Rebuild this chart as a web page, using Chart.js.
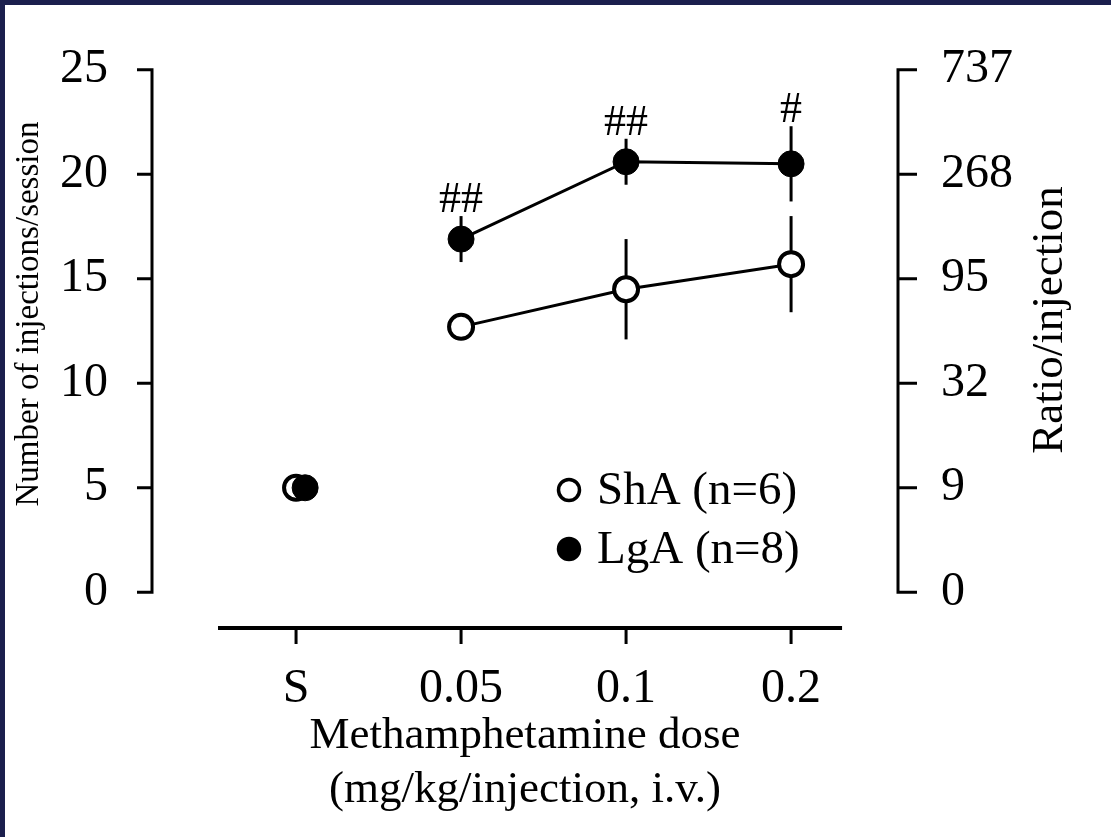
<!DOCTYPE html>
<html>
<head>
<meta charset="utf-8">
<script src="https://cdn.jsdelivr.net/npm/chart.js@4.4.1/dist/chart.umd.min.js"></script>
<style>
  html, body { margin: 0; padding: 0; background: #1b1f4d; overflow: hidden; }
  #wrap { position: absolute; left: 5px; top: 5px; width: 1106px; height: 832px; background: #fff; }
</style>
</head>
<body>
<div id="wrap"><canvas id="chart" width="1106" height="832"></canvas></div>
<script>
// dose categories on the x axis
const doseLabels = ['S', '0.05', '0.1', '0.2'];

// injections per session, mean and SEM
const shaMeans = [5.0, 12.7, 14.5, 15.7];
const shaErr   = [0, 0, 2.4, 2.3];
const lgaMeans = [5.0, 16.9, 20.6, 20.5];
const lgaErr   = [0, 1.1, 1.1, 1.8];

// significance marks above LgA points
const lgaMarks = ['', '##', '##', '#'];

// left axis ticks and the matching ratio values on the right axis
const injTicks = [0, 5, 10, 15, 20, 25];
const ratioLabels = ['0', '9', '32', '95', '268', '737'];

const serif = 'Liberation Serif, Times New Roman, serif';

function toPoints(means, shiftFirst) {
    return means.map((v, i) => ({ x: i + (i === 0 ? shiftFirst : 0), y: v }));
}

// no line between S and the first dose
const hideFirstSegment = {
    borderColor: ctx => ctx.p0DataIndex === 0 ? 'rgba(0,0,0,0)' : '#000'
};

const errors = [shaErr, lgaErr];
const means = [shaMeans, lgaMeans];

// axis lines drawn only over the 0-25 range, like the original
const axesPlugin = {
    id: 'axes',
    afterDraw(chart) {
        const ctx = chart.ctx;
        const x = chart.scales.x, yl = chart.scales.y;
        const area = chart.chartArea;
        ctx.save();
        ctx.strokeStyle = '#000';
        ctx.lineCap = 'butt';

        ctx.lineWidth = 3;
        const top = yl.getPixelForValue(25), bot = yl.getPixelForValue(0);
        ctx.beginPath();
        ctx.moveTo(area.left, top - 1.5); ctx.lineTo(area.left, bot + 1.5);
        ctx.moveTo(area.right, top - 1.5); ctx.lineTo(area.right, bot + 1.5);
        injTicks.forEach(v => {
            const py = yl.getPixelForValue(v);
            ctx.moveTo(area.left - 15, py); ctx.lineTo(area.left, py);
            ctx.moveTo(area.right, py); ctx.lineTo(area.right + 19, py);
        });
        ctx.stroke();

        ctx.lineWidth = 4;
        ctx.beginPath();
        ctx.moveTo(x.getPixelForValue(-0.473), area.bottom);
        ctx.lineTo(x.getPixelForValue(3.309), area.bottom);
        ctx.stroke();
        ctx.lineWidth = 3;
        ctx.beginPath();
        doseLabels.forEach((d, i) => {
            const px = x.getPixelForValue(i);
            ctx.moveTo(px, area.bottom); ctx.lineTo(px, area.bottom + 16);
        });
        ctx.stroke();

        // y titles, both reading bottom to top
        ctx.fillStyle = '#000';
        ctx.textAlign = 'center';
        ctx.textBaseline = 'middle';
        ctx.save();
        ctx.translate(24, 309);
        ctx.rotate(-Math.PI / 2);
        ctx.font = '33px ' + serif;
        ctx.fillText('Number of injections/session', 0, 0);
        ctx.restore();
        ctx.save();
        ctx.translate(1045, 315);
        ctx.rotate(-Math.PI / 2);
        ctx.font = '45px ' + serif;
        ctx.fillText('Ratio/injection', 0, 0);
        ctx.restore();

        // legend in the lower right
        chart.data.datasets.slice().sort((a, b) => a.legendIdx - b.legendIdx).forEach((ds, i) => {
            const cy = 485 + i * 59;
            ctx.beginPath();
            ctx.arc(564, cy, 10.5, 0, Math.PI * 2);
            ctx.fillStyle = ds.pointBackgroundColor;
            ctx.fill();
            ctx.lineWidth = 3.5;
            ctx.strokeStyle = '#000';
            ctx.stroke();
            ctx.fillStyle = '#000';
            ctx.textAlign = 'left';
            ctx.font = '47px ' + serif;
            ctx.fillText(ds.label, 592, cy + 2);
        });
        ctx.restore();
    }
};

const errorBarPlugin = {
    id: 'errorBars',
    beforeDatasetsDraw(chart) {
        const ctx = chart.ctx;
        const y = chart.scales.y;
        ctx.save();
        ctx.strokeStyle = '#000';
        ctx.lineWidth = 3;
        chart.data.datasets.forEach((ds, d) => {
            const meta = chart.getDatasetMeta(d);
            meta.data.forEach((pt, i) => {
                const e = errors[ds.legendIdx][i];
                if (!e) return;
                const m = means[ds.legendIdx][i];
                ctx.beginPath();
                ctx.moveTo(pt.x, y.getPixelForValue(m + e));
                ctx.lineTo(pt.x, y.getPixelForValue(m - e));
                ctx.stroke();
            });
        });
        ctx.restore();
    },
    afterDatasetsDraw(chart) {
        const ctx = chart.ctx;
        const y = chart.scales.y;
        const d = chart.data.datasets.findIndex(ds => ds.legendIdx === 1);
        const meta = chart.getDatasetMeta(d);
        ctx.save();
        ctx.fillStyle = '#000';
        ctx.font = '44px ' + serif;
        ctx.textAlign = 'center';
        ctx.textBaseline = 'alphabetic';
        meta.data.forEach((pt, i) => {
            if (!lgaMarks[i]) return;
            ctx.fillText(lgaMarks[i], pt.x, y.getPixelForValue(lgaMeans[i] + lgaErr[i]) - 4);
        });
        ctx.restore();
    }
};

new Chart(document.getElementById('chart'), {
    type: 'line',
    data: {
        datasets: [
            {
                label: 'LgA (n=8)',
                legendIdx: 1,
                data: toPoints(lgaMeans, 0.055),
                borderColor: '#000',
                borderWidth: 3,
                pointRadius: 13,
                pointBackgroundColor: '#000',
                pointBorderColor: '#000',
                pointBorderWidth: 1,
                segment: hideFirstSegment,
                order: 0
            },
            {
                label: 'ShA (n=6)',
                legendIdx: 0,
                data: toPoints(shaMeans, 0),
                borderColor: '#000',
                borderWidth: 3,
                pointRadius: 12,
                pointBackgroundColor: '#fff',
                pointBorderColor: '#000',
                pointBorderWidth: 4,
                segment: hideFirstSegment,
                order: 1
            }
        ]
    },
    options: {
        responsive: false,
        animation: false,
        layout: { padding: { top: 60, left: 0, right: 0, bottom: 0 } },
        plugins: { legend: { display: false }, tooltip: { enabled: false } },
        scales: {
            x: {
                type: 'linear',
                min: -0.873,
                max: 3.648,
                grid: { display: false },
                border: { display: false },
                afterBuildTicks: s => { s.ticks = doseLabels.map((l, i) => ({ value: i })); },
                afterFit: s => { s.height = 209; },
                ticks: {
                    autoSkip: false,
                    padding: 25,
                    color: '#000',
                    font: { family: serif, size: 48 },
                    callback: (v, i) => doseLabels[i]
                },
                title: {
                    display: true,
                    text: ['Methamphetamine dose', '(mg/kg/injection, i.v.)'],
                    color: '#000',
                    font: { family: serif, size: 45, lineHeight: 1.2 },
                    padding: { top: 0, bottom: 20 }
                }
            },
            y: {
                position: 'left',
                min: -1.71,
                max: 25,
                grid: { display: false },
                border: { display: false },
                afterBuildTicks: s => { s.ticks = injTicks.map(v => ({ value: v })); },
                afterFit: s => { s.width = 147; },
                ticks: {
                    autoSkip: false,
                    padding: 36,
                    color: '#000',
                    font: { family: serif, size: 48 }
                }
            },
            y2: {
                position: 'right',
                min: -1.71,
                max: 25,
                grid: { display: false },
                border: { display: false },
                afterBuildTicks: s => { s.ticks = injTicks.map(v => ({ value: v })); },
                afterFit: s => { s.width = 213; },
                ticks: {
                    autoSkip: false,
                    padding: 35,
                    color: '#000',
                    font: { family: serif, size: 48 },
                    callback: (v, i) => ratioLabels[i]
                }
            }
        }
    },
    plugins: [axesPlugin, errorBarPlugin]
});
</script>
</body>
</html>
